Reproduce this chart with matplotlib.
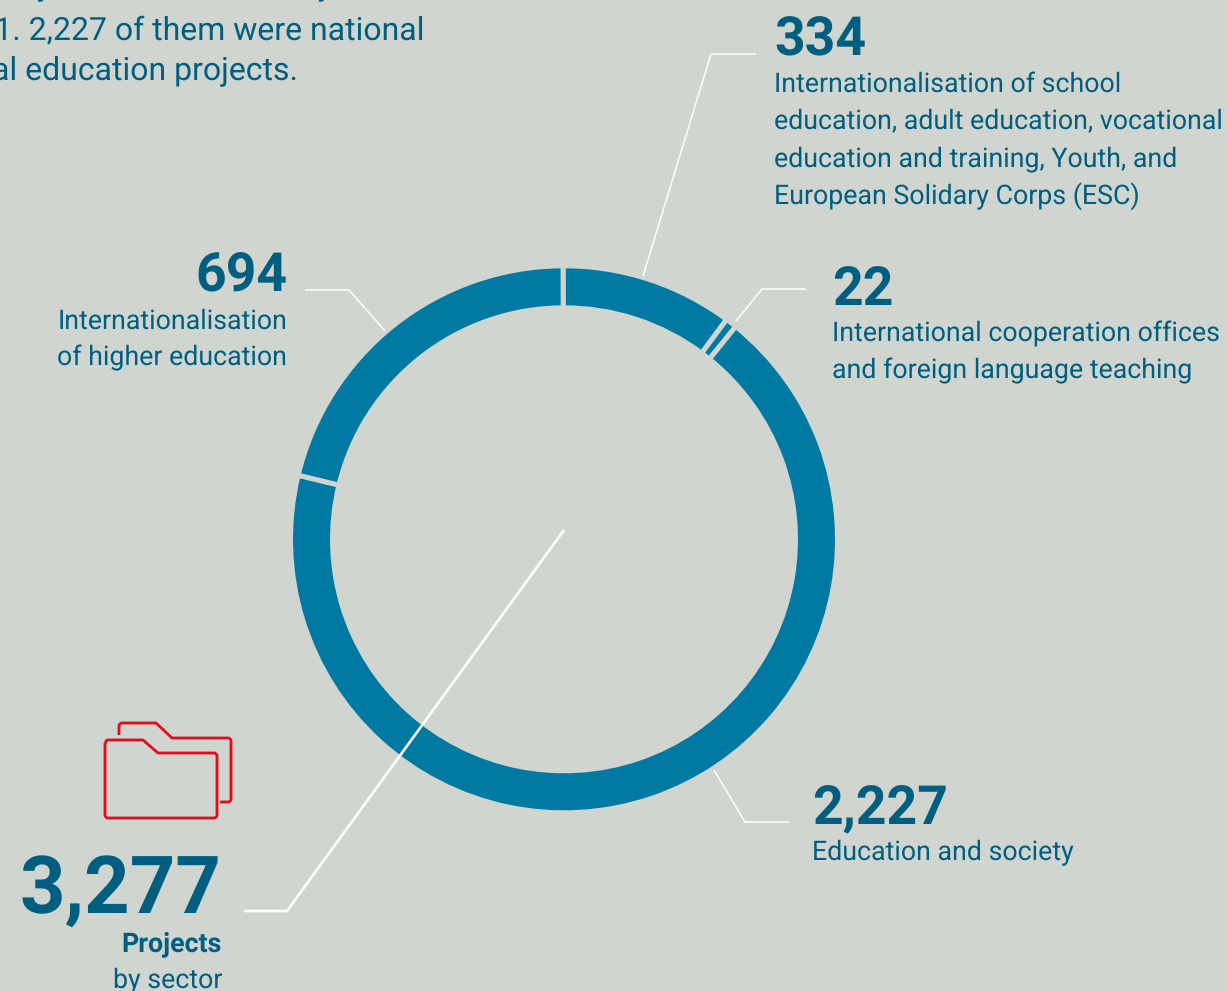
import matplotlib
matplotlib.use("Agg")
import matplotlib.pyplot as plt

W, H = 1227, 991
BG = "#d0d5cf"
RING = "#0079a3"
TEXT = "#005f80"
RED = "#e30b1c"

sector_values = [334, 22, 2227, 694]
total_label = "3,277"
value_labels = ["334", "22", "2,227", "694"]
descriptions = [
    ["Internationalisation of school", "education, adult education, vocational",
     "education and training, Youth, and", "European Solidary Corps (ESC)"],
    ["International cooperation offices", "and foreign language teaching"],
    ["Education and society"],
    ["Internationalisation", "of higher education"],
]
intro_lines = ["projects were funded by the EU",
               "in 2021. 2,227 of them were national",
               "and international education projects."]

plt.rcParams["font.family"] = ["Roboto", "DejaVu Sans"]
plt.rcParams["text.hinting"] = "no_hinting"
fig = plt.figure(figsize=(W / 100, H / 100), dpi=100, facecolor=BG)
ax = fig.add_axes([0, 0, 1, 1])
ax.set_facecolor(BG)


def Y(y):
    return H - y


def pt(px):
    return px * 0.72


ax.pie(sector_values, center=(564, Y(539.3)), radius=273.5, startangle=90.2,
       counterclock=False, colors=[RING] * 4,
       wedgeprops=dict(width=42, edgecolor=BG, linewidth=pt(5)))
ax.set_xlim(0, W)
ax.set_ylim(0, H)
ax.set_aspect("equal")
ax.axis("off")


def path(points, color="white", lw=1.5):
    ax.plot([p[0] for p in points], [Y(p[1]) for p in points], color=color,
            lw=pt(lw), solid_joinstyle="round", solid_capstyle="butt", zorder=3)


path([(756, 54), (711, 54), (643, 276)])
path([(806, 289), (762, 289), (736, 321)])
path([(305, 290), (349, 290), (385, 331)])
path([(789, 822), (745, 822), (714, 770)])
path([(244, 911), (287, 911), (564, 530)], lw=2.6)

# folder icon
path([(105, 743), (107, 740), (143, 740), (158, 753), (215, 753), (217, 755),
      (217, 816), (215, 818), (107, 818), (105, 816), (105, 743)], RED, 2.8)
path([(119, 735), (119, 725), (121, 723), (156, 723), (172, 738), (229, 738),
      (231, 740), (231, 800), (229, 802), (220, 802)], RED, 2.8)


def txt(x, y, s, px, ha="left", weight="normal"):
    ax.text(x, Y(y), s, fontsize=pt(px), ha=ha, va="baseline", color=TEXT,
            fontweight=weight, zorder=4)


BIG = 53.5
BODY = 26.75
txt(774, 55.5, value_labels[0], BIG, weight="bold")
for y, s in zip([92, 129, 166.5, 204], descriptions[0]):
    txt(774, y, s, BODY)
txt(832, 305, value_labels[1], BIG, weight="bold")
for y, s in zip([342, 378.5], descriptions[1]):
    txt(832, y, s, BODY)
txt(812, 824, value_labels[2], BIG, weight="bold")
txt(812, 860, descriptions[2][0], BODY)
txt(287, 291, value_labels[3], BIG, ha="right", weight="bold")
for y, s in zip([328.5, 365.5], descriptions[3]):
    txt(287, y, s, BODY, ha="right")

txt(221, 914, total_label, 79.5, ha="right", weight="bold")
txt(222, 952, "Projects", BODY, ha="right", weight="bold")
txt(222, 988, "by sector", BODY, ha="right")

for x, y, s in zip([433, 424, 298], [-5, 39.5, 79.5], intro_lines):
    txt(x, y, s, 32, ha="right")

fig.savefig("out.png", dpi=100, facecolor=BG)
